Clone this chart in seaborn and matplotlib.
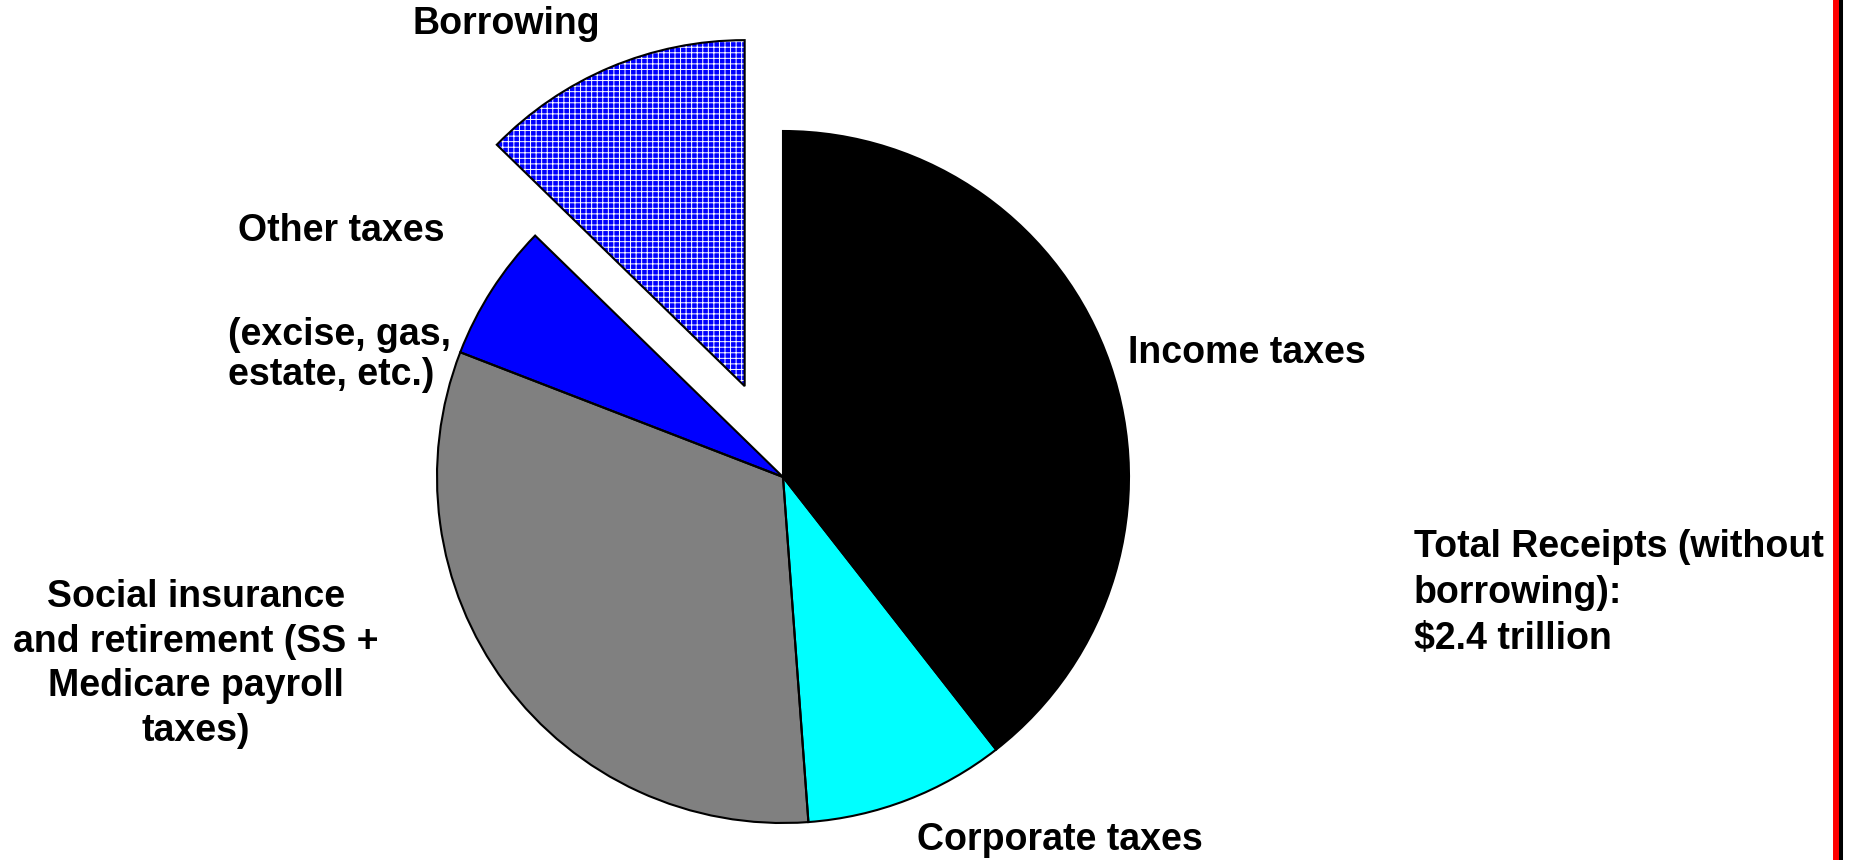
import matplotlib
matplotlib.use("Agg")
import matplotlib.pyplot as plt
from matplotlib.lines import Line2D
import seaborn as sns

# slice data (share of total outlays, %), clockwise from 12 o'clock
categories = ["Income taxes", "Corporate taxes", "Social insurance", "Other taxes", "Borrowing"]
shares = [39.44, 9.39, 32.04, 6.42, 12.71]
colors = ["#000000", "#00ffff", "#808080", "#0000ff", "#0000ff"]
explode = [0, 0, 0, 0, 0.285]

sns.set_style("white")
plt.rcParams["font.family"] = ["Liberation Sans", "DejaVu Sans"]
plt.rcParams["font.weight"] = "bold"
plt.rcParams["hatch.linewidth"] = 0.7

W, H = 1852, 860
fig = plt.figure(figsize=(W / 100, H / 100), dpi=100)
ax = fig.add_axes([0, 0, 1, 1])

# fill layer (hatched borrowing slice)
wedges, _ = ax.pie(shares, colors=colors, explode=explode, startangle=90,
                   counterclock=False, radius=1,
                   wedgeprops=dict(linewidth=0))
wedges[-1].set_hatch("+++")
wedges[-1].set_edgecolor("white")
for w in wedges:
    w.set_clip_on(False)

# outline layer
outl, _ = ax.pie(shares, colors=["none"] * len(shares), explode=explode, startangle=90,
                 counterclock=False, radius=1,
                 wedgeprops=dict(linewidth=1.5, edgecolor="black", facecolor="none"))
for w in outl:
    w.set_clip_on(False)

# pie centre / radius in pixels (pie() resets limits, so set them afterwards)
cx, cy, r = 783, 860 - 477, 346
ax.set_xlim(-cx / r, (W - cx) / r)
ax.set_ylim(-cy / r, (H - cy) / r)
ax.set_aspect("equal", adjustable="datalim")
ax.axis("off")


def label(x, y, s, ha="center", **kw):
    fig.text(x / W, 1 - y / H, s, ha=ha, va="center", fontsize=27,
             fontweight="bold", color="black", **kw)


label(506, 24, "Borrowing")
label(341, 231, "Other taxes")
label(228, 335, "(excise, gas,", ha="left")
label(228, 375, "estate, etc.)", ha="left")
label(1128, 353, "Income taxes", ha="left")
label(1060, 840, "Corporate taxes")
label(196, 664, "Social insurance\nand retirement (SS +\nMedicare payroll\ntaxes)", linespacing=1.32)
label(1414, 593, "Total Receipts (without\nborrowing):\n$2.4 trillion", ha="left", linespacing=1.34)

# right-hand border
fig.add_artist(Line2D([1836 / W, 1836 / W], [0, 1], color="red", linewidth=4.3,
                      transform=fig.transFigure))
fig.add_artist(Line2D([1841 / W, 1841 / W], [0, 1], color="black", linewidth=2.9,
                      transform=fig.transFigure))

fig.savefig("out.png", dpi=100)
